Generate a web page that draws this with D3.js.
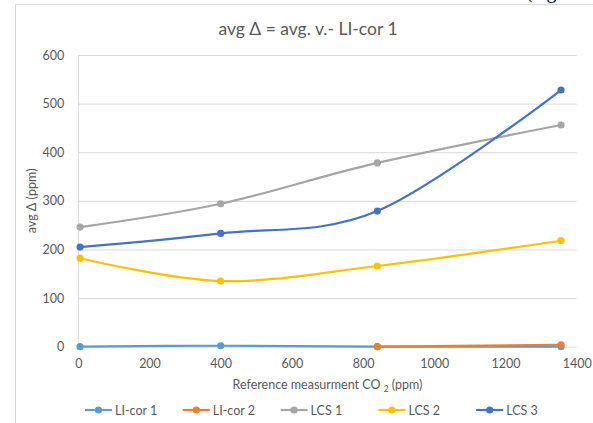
<!DOCTYPE html>
<html>
<head>
<meta charset="utf-8">
<script src="https://cdn.jsdelivr.net/npm/d3@7"></script>
<style>
  body { margin: 0; background: #fff; }
  text { font-family: Lato, "Open Sans", sans-serif; }
</style>
</head>
<body>
<div id="chart"></div>
<script>
// data
var refCO2 = [5, 400, 840, 1356];
var licor1 = [0, 2, 0, 0];
var licor2 = [null, null, 0, 4];
var lcs1 = [246, 294, 378, 456];
var lcs2 = [182, 135, 166, 218];
var lcs3 = [205, 233, 279, 528];
var seriesNames = ["LI-cor 1", "LI-cor 2", "LCS 1", "LCS 2", "LCS 3"];
var seriesColors = ["#5b9bd5", "#ed7d31", "#a5a5a5", "#ffc000", "#4472c4"];
var xTicks = [0, 200, 400, 600, 800, 1000, 1200, 1400];
var yTicks = [0, 100, 200, 300, 400, 500, 600];

const W = 593, H = 423;
const plot = { left: 78.3, right: 576.7, top: 55, bottom: 346.7 };

const svg = d3.select("#chart").append("svg")
  .attr("width", W).attr("height", H);

// chart frame (partly cut off)
svg.append("line").attr("x1", 15.5).attr("x2", 15.5).attr("y1", 4.5).attr("y2", H)
  .attr("stroke", "#d9d9d9");
svg.append("line").attr("x1", 15.5).attr("x2", W).attr("y1", 4.5).attr("y2", 4.5)
  .attr("stroke", "#d9d9d9");

// clipped text of the page above
svg.append("text").attr("x", 526).attr("y", -2)
  .attr("font-size", 20)
  .style("font-family", "'Liberation Serif', serif")
  .attr("fill", "#000").text("(e.g.");

const x = d3.scaleLinear().domain([0, 1400]).range([plot.left, plot.right]);
const y = d3.scaleLinear().domain([0, 600]).range([plot.bottom, plot.top]);

// gridlines
svg.append("g")
  .attr("transform", `translate(${plot.left},0)`)
  .call(d3.axisLeft(y).tickValues(yTicks).tickSize(-(plot.right - plot.left)).tickFormat(""))
  .call(g => g.select(".domain").remove())
  .call(g => g.selectAll("line").attr("stroke", "#d9d9d9"));

// y axis line + labels
svg.append("line").attr("x1", plot.left).attr("x2", plot.left)
  .attr("y1", plot.top).attr("y2", plot.bottom).attr("stroke", "#d9d9d9");
svg.append("g")
  .attr("transform", `translate(${plot.left - 11},0)`)
  .call(d3.axisLeft(y).tickValues(yTicks).tickSize(0))
  .call(g => g.select(".domain").remove())
  .call(g => g.selectAll("text").attr("fill", "#595959")
    .style("font-size", "12.5px").style("font-family", "Lato, sans-serif"));

// x axis labels
svg.append("g")
  .attr("transform", `translate(0,${plot.bottom + 9})`)
  .call(d3.axisBottom(x).tickValues(xTicks).tickSize(0).tickFormat(d3.format("d")))
  .call(g => g.select(".domain").remove())
  .call(g => g.selectAll("text").attr("fill", "#595959")
    .style("font-size", "12.5px").style("font-family", "Lato, sans-serif"));

// title
svg.append("text")
  .attr("x", 308).attr("y", 35)
  .attr("text-anchor", "middle")
  .attr("font-size", "17.5px").attr("fill", "#595959")
  .text("avg Δ = avg. v.- LI-cor 1");

// axis titles
const xt = svg.append("text")
  .attr("x", (plot.left + plot.right) / 2).attr("y", 389)
  .attr("text-anchor", "middle")
  .attr("font-size", "12.5px").attr("fill", "#595959");
xt.append("tspan").text("Reference measurment CO ");
xt.append("tspan").attr("font-size", "8.5px").attr("dy", 3).text("2");
xt.append("tspan").attr("dy", -3).text(" (ppm)");

svg.append("text")
  .attr("transform", `translate(36,${(plot.top + plot.bottom) / 2}) rotate(-90)`)
  .attr("text-anchor", "middle")
  .attr("font-size", "12.5px").attr("fill", "#595959")
  .text("avg Δ  (ppm)");

// series
var allSeries = [licor1, licor2, lcs1, lcs2, lcs3];
const line = d3.line()
  .x(d => x(d[0]))
  .y(d => y(d[1]))
  .curve(d3.curveCardinal.tension(0));

allSeries.forEach(function (vals, i) {
  var pts = refCO2.map((c, j) => [c, vals[j]]).filter(d => d[1] != null);
  var g = svg.append("g");
  g.append("path")
    .datum(pts)
    .attr("d", line)
    .attr("fill", "none")
    .attr("stroke", seriesColors[i])
    .attr("stroke-width", 2.2);
  g.selectAll("circle")
    .data(pts)
    .join("circle")
    .attr("cx", d => x(d[0]))
    .attr("cy", d => y(d[1]))
    .attr("r", 3.6)
    .attr("fill", seriesColors[i]);
});

// legend
const legend = svg.append("g").attr("transform", "translate(85,410)");
seriesNames.forEach(function (name, i) {
  var g = legend.append("g").attr("transform", `translate(${i * 97.8},0)`);
  g.append("line").attr("x1", 0).attr("x2", 27).attr("y1", 0).attr("y2", 0)
    .attr("stroke", seriesColors[i]).attr("stroke-width", 2.2);
  g.append("circle").attr("cx", 13.5).attr("cy", 0).attr("r", 3.6)
    .attr("fill", seriesColors[i]);
  g.append("text").attr("x", 30).attr("y", 4.5)
    .attr("font-size", "12.5px").attr("fill", "#595959")
    .text(name);
});
</script>
</body>
</html>
